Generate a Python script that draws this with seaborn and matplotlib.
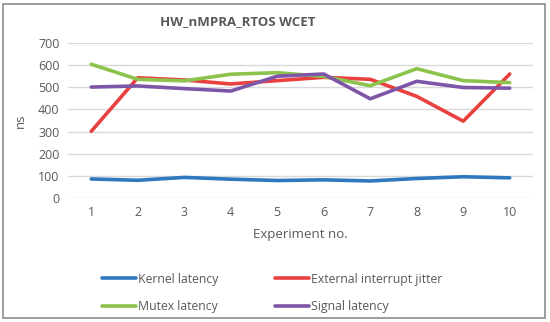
import matplotlib
matplotlib.use('Agg')
import matplotlib.pyplot as plt
import seaborn as sns
import pandas as pd
from matplotlib.patches import Rectangle

# Values
experiments = [1, 2, 3, 4, 5, 6, 7, 8, 9, 10]
kernel_latency = [86, 80, 93, 85, 79, 82, 77, 88, 96, 91]
external_jitter = [301, 543, 533, 515, 530, 545, 536, 459, 347, 560]
mutex_latency = [604, 536, 529, 559, 566, 549, 507, 584, 530, 521]
signal_latency = [501, 506, 494, 483, 550, 560, 448, 527, 499, 496]

series_names = ['Kernel latency', 'External interrupt jitter', 'Mutex latency', 'Signal latency']
colors = ['#2E78C0', '#E8413F', '#8CC34C', '#7E56A8']

df = pd.DataFrame({'Experiment no.': experiments,
                   series_names[0]: kernel_latency,
                   series_names[1]: external_jitter,
                   series_names[2]: mutex_latency,
                   series_names[3]: signal_latency})
long = df.melt(id_vars='Experiment no.', var_name='series', value_name='ns')

sns.set_style('white')
plt.rcParams['font.family'] = ['Open Sans', 'DejaVu Sans']

fig = plt.figure(figsize=(5.5, 3.22), dpi=100)
ax = fig.add_axes([68 / 550, 1 - 198 / 322, (533 - 68) / 550, (198 - 43) / 322])

sns.lineplot(data=long, x='Experiment no.', y='ns', hue='series',
             hue_order=series_names, palette=colors, linewidth=2.6,
             ax=ax, legend=False)

ax.set_xlim(0.5, 10.5)
ax.set_ylim(0, 700)
ax.set_yticks(range(0, 701, 100))
ax.set_xticks(experiments)
ax.yaxis.grid(True, color='#D9D9D9', linewidth=1)
ax.set_axisbelow(True)
for s in ax.spines.values():
    s.set_visible(False)
ax.tick_params(axis='both', length=0, labelsize=9, colors='#595959', pad=6)
ax.set_xlabel('Experiment no.', fontsize=9.5, color='#595959', labelpad=6)
ax.set_ylabel('ns', fontsize=9.5, color='#595959', labelpad=8)
fig.text(238 / 550, 1 - 22 / 322, 'HW_nMPRA_RTOS WCET', ha='center', va='center',
         fontsize=9.5, fontweight='bold', color='#595959')

# legend: Kernel | External on first row, Mutex | Signal on second
handles = [plt.Line2D([], [], color=c, linewidth=2.6) for c in colors]
order = [0, 2, 1, 3]
fig.legend([handles[i] for i in order], [series_names[i] for i in order],
           ncol=2, loc='center', bbox_to_anchor=(272 / 550, 1 - 293 / 322),
           frameon=False, fontsize=8.8, labelcolor='#595959',
           handlelength=2.8, handletextpad=0.15, columnspacing=4.6,
           labelspacing=1.2)

fig.patches.append(Rectangle((3 / 550, 4 / 322), 542 / 550, 314 / 322,
                             transform=fig.transFigure, fill=False,
                             edgecolor='#8C8C8C', linewidth=1.2))

fig.savefig('out.png', dpi=100)
